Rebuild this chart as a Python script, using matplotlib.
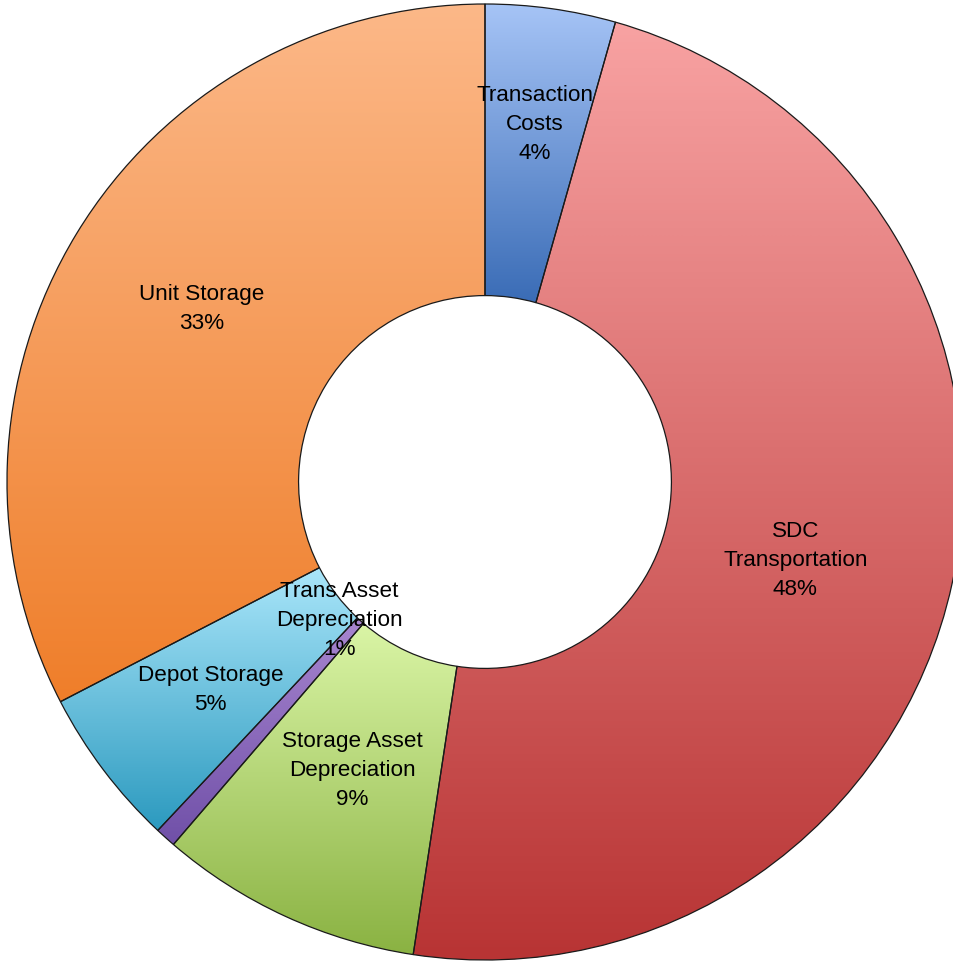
import matplotlib.pyplot as plt
import numpy as np
from matplotlib.colors import LinearSegmentedColormap

labels = ['Transaction\nCosts', 'SDC\nTransportation', 'Storage Asset\nDepreciation',
          'Trans Asset\nDepreciation', 'Depot Storage', 'Unit Storage']
values = [4.4, 48.0, 8.9, 0.7, 5.4, 32.6]
top_colors = ['#a6c4f6', '#f8a2a2', '#daf5a6', '#a886d0', '#aae6fa', '#fcb888']
bottom_colors = ['#3a6cb6', '#b83434', '#8ab242', '#7050a8', '#2c9abf', '#ef7e2a']

plt.rcParams['font.family'] = ['Liberation Sans', 'DejaVu Sans']

fig = plt.figure(figsize=(9.54, 9.61), dpi=100)
ax = fig.add_axes([0, 0, 1, 1])

# pixel geometry of the donut: center (485, 482), outer radius 478 px
cx, cy, R = 485, 482, 478
inner = 0.39

wedges, _ = ax.pie(values, startangle=90, counterclock=False, radius=1,
                   wedgeprops=dict(width=1 - inner, edgecolor='#1a1a1a', linewidth=0.9,
                                   facecolor='none'))

grad = np.linspace(0, 1, 256).reshape(-1, 1)
for w, c0, c1 in zip(wedges, top_colors, bottom_colors):
    ext = w.get_path().get_extents()
    cmap = LinearSegmentedColormap.from_list('g', [c0, c1])
    im = ax.imshow(grad, cmap=cmap, extent=[ext.x0, ext.x1, ext.y0, ext.y1],
                   origin='upper', aspect='auto', zorder=0.5, interpolation='bilinear')
    im.set_clip_path(w)
    w.set_zorder(1)

# labels at the middle of each ring segment (small ones nudged like Excel does)
label_r = [0.755, 0.67, 0.665, 0.42, 0.72, 0.695]
label_shift = [0, 2, 0, 4.5, 0, 0]
total = sum(values)
start = 0
for lab, v, lr, sh in zip(labels, values, label_r, label_shift):
    mid = (start + v / 2) / total * 360 + sh
    start += v
    a = np.deg2rad(mid)
    ax.text(lr * np.sin(a), lr * np.cos(a), f'{lab}\n{v:.0f}%', ha='center', va='center',
            fontsize=16.2, linespacing=1.5, color='black', zorder=3)

ax.set_xlim(-cx / R, (954 - cx) / R)
ax.set_ylim(-(961 - cy) / R, cy / R)
ax.set_aspect('auto')
ax.axis('off')

fig.savefig('out.png', dpi=100)
